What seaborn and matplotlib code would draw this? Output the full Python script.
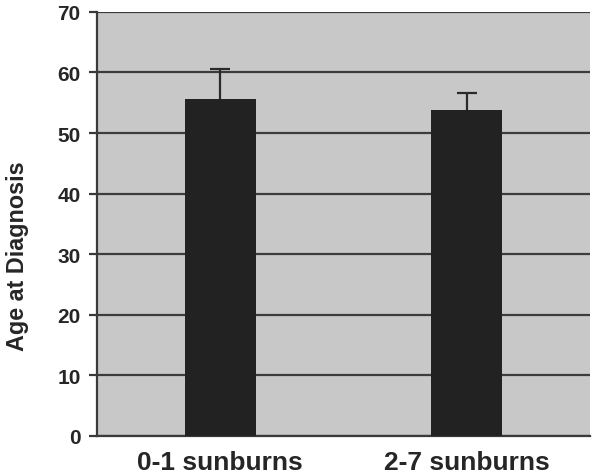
import pandas as pd
import matplotlib.pyplot as plt
import seaborn as sns

groups = ['0-1 sunburns', '2-7 sunburns']
age = [55.6, 53.8]
err_up = [5.0, 2.8]

df = pd.DataFrame({'group': groups, 'age': age})

sns.set_style('white')
plt.rcParams['font.family'] = ['Liberation Sans', 'DejaVu Sans']

fig = plt.figure(figsize=(6, 4.77), dpi=100)
ax = fig.add_axes([0.162, 0.084, 0.821, 0.889])
ax.set_facecolor('#c8c8c8')

sns.barplot(x='group', y='age', data=df, color='#222222', width=0.29,
            saturation=1, errorbar=None, ax=ax, zorder=3,
            edgecolor='#222222', linewidth=0)

# upward-only error bars
xs = list(range(len(groups)))
tops = [a + e for a, e in zip(age, err_up)]
ax.vlines(xs, age, tops, color='#2a2a2a', linewidth=1.6, zorder=4)
ax.hlines(tops, [x - 0.04 for x in xs], [x + 0.04 for x in xs],
          color='#2a2a2a', linewidth=1.6, zorder=4)

ax.set_ylim(0, 70)
ax.set_xlim(-0.5, 1.5)
ax.set_yticks(range(0, 71, 10))
ax.yaxis.grid(True, color='#3c3c3c', linewidth=1.6, zorder=1)
ax.set_axisbelow(True)
for s in ['top', 'right']:
    ax.spines[s].set_visible(False)
for s in ['left', 'bottom']:
    ax.spines[s].set_color('#3a3a3a')
    ax.spines[s].set_linewidth(1.6)

ax.set_xticks([-0.5, 0.5, 1.5], minor=True)
ax.tick_params(axis='x', which='major', length=0, pad=10)
ax.tick_params(axis='x', which='minor', length=4, width=1.5, color='#555555', direction='out')
ax.tick_params(axis='y', length=6, width=1.6, color='#3a3a3a', direction='out', pad=6)
ax.tick_params(axis='y', left=True)
for lbl in ax.get_yticklabels():
    lbl.set_fontweight('bold')
    lbl.set_fontsize(15)
for lbl in ax.get_xticklabels():
    lbl.set_fontweight('bold')
    lbl.set_fontsize(19)

ax.set_xlabel('')
ax.set_ylabel('Age at Diagnosis', fontsize=16.8, fontweight='bold')
ax.yaxis.set_label_coords(-0.138, 0.427)

fig.savefig('out.png', dpi=100)
